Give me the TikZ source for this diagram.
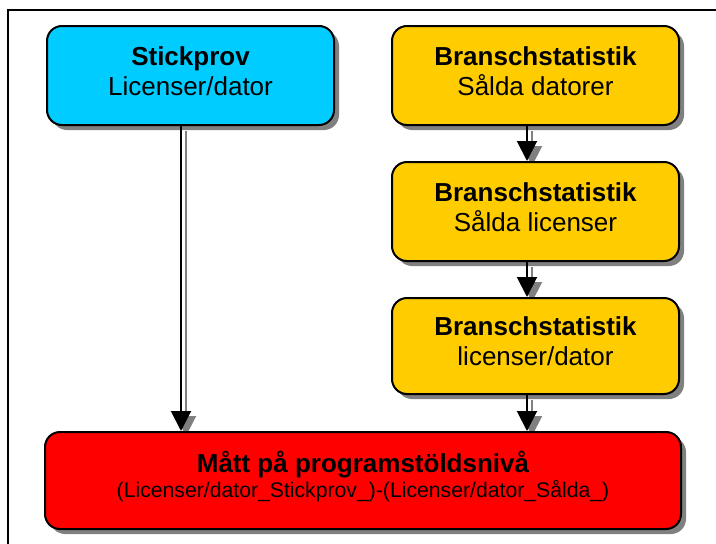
\documentclass[tikz,border=0pt]{standalone}
\usepackage{fontspec}
\setmainfont{Liberation Sans}
\usetikzlibrary{arrows.meta,shadows}
\definecolor{boxcyan}{HTML}{00CCFF}
\definecolor{boxyellow}{HTML}{FFCC00}
\definecolor{boxred}{HTML}{FF0000}
\definecolor{shadowgray}{HTML}{808080}
\pgfdeclarelayer{bg}
\pgfsetlayers{bg,main}
\begin{document}
\begin{tikzpicture}[x=1pt,y=-1pt,
  box/.style={draw=black, line width=2pt, rounded corners=15pt,
    minimum width=287pt, minimum height=99pt, inner sep=0pt,
    drop shadow={shadow xshift=5pt, shadow yshift=-5pt, fill=shadowgray, opacity=1}},
  ttl/.style={anchor=base, inner sep=0pt, font=\bfseries\fontsize{26}{30}\selectfont},
  sub/.style={anchor=base, inner sep=0pt, font=\fontsize{26}{30}\selectfont},
  subsmall/.style={anchor=base, inner sep=0pt, font=\fontsize{21.2}{25}\selectfont},
  conn/.style={draw=black, line width=2pt, -{Triangle[length=20pt,width=20pt]}},
  connsh/.style={draw=shadowgray, line width=2pt, -{Triangle[length=20pt,width=20pt]}}]
\useasboundingbox (0,0) rectangle (716,544);
\coordinate (frameA) at (8,544);
\coordinate (frameB) at (8,10);
\coordinate (frameC) at (716,10);
\draw[line width=1.5pt] (frameA) -- (frameB) -- (frameC);

\node[box, fill=boxcyan] (s) at (190.5,75.5) {};
\node[box, fill=boxyellow] (b1) at (535.5,75.5) {};
\node[box, fill=boxyellow] (b2) at (535.5,211.5) {};
\node[box, fill=boxyellow, minimum height=96pt] (b3) at (535.5,346) {};
\node[box, fill=boxred, minimum width=636pt, minimum height=97pt] (m) at (363,480.5) {};

\node[ttl] (sT) at ([yshift=10.5pt]s.center) {Stickprov};
\node[sub] (sS) at ([yshift=-19.5pt]s.center) {Licenser/dator};
\node[ttl] (b1T) at ([yshift=10.5pt]b1.center) {Branschstatistik};
\node[sub] (b1S) at ([yshift=-19.5pt]b1.center) {Sålda datorer};
\node[ttl] (b2T) at ([yshift=10.5pt]b2.center) {Branschstatistik};
\node[sub] (b2S) at ([yshift=-19.5pt]b2.center) {Sålda licenser};
\node[ttl] (b3T) at ([yshift=10.5pt]b3.center) {Branschstatistik};
\node[sub] (b3S) at ([yshift=-19.5pt]b3.center) {licenser/dator};
\node[ttl] (mT) at ([yshift=8.5pt]m.center) {Mått på programstöldsnivå};
\node[subsmall] (mS) at ([yshift=-16.5pt]m.center) {(Licenser/dator\_Stickprov\_)-(Licenser/dator\_Sålda\_)};

\begin{pgfonlayer}{bg}
  \draw[connsh] ([xshift=-4.5pt,yshift=-5pt]s.south) -- ([xshift=-4.5pt,yshift=-5pt]s.south |- m.north);
  \draw[connsh] ([xshift=-3.5pt,yshift=-5pt]b1.south) -- ([xshift=-3.5pt,yshift=-5pt]b1.south |- b2.north);
  \draw[connsh] ([xshift=-3.5pt,yshift=-5pt]b2.south) -- ([xshift=-3.5pt,yshift=-5pt]b2.south |- b3.north);
  \draw[connsh] ([xshift=-3.5pt,yshift=-5pt]b3.south) -- ([xshift=-3.5pt,yshift=-5pt]b3.south |- m.north);
\end{pgfonlayer}

\draw[conn] ([xshift=-9.5pt]s.south) -- ([xshift=-9.5pt]s.south |- m.north);
\draw[conn] ([xshift=-8.5pt]b1.south) -- ([xshift=-8.5pt]b1.south |- b2.north);
\draw[conn] ([xshift=-8.5pt]b2.south) -- ([xshift=-8.5pt]b2.south |- b3.north);
\draw[conn] ([xshift=-8.5pt]b3.south) -- ([xshift=-8.5pt]b3.south |- m.north);
\end{tikzpicture}
\end{document}
